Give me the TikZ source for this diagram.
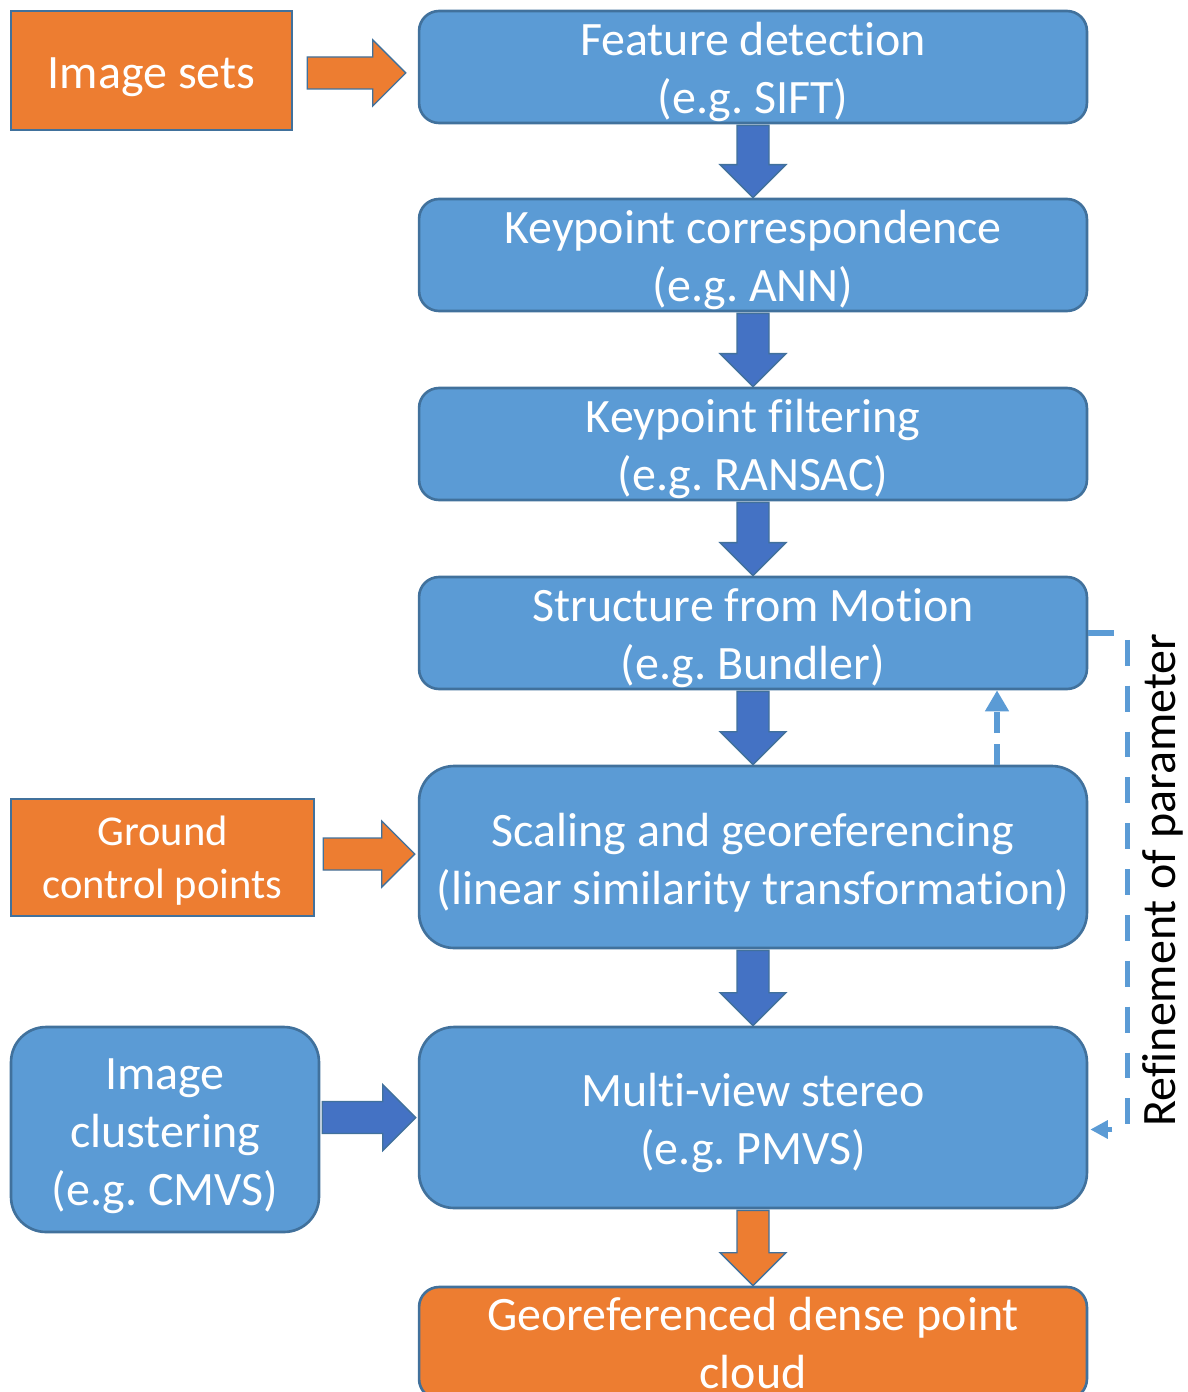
\documentclass[tikz,border=0pt]{standalone}
\usepackage{fontspec}
\setmainfont{Carlito}[Ligatures={NoCommon}]
\usetikzlibrary{calc,arrows.meta}
\definecolor{boxblue}{HTML}{5B9BD5}
\definecolor{edgeblue}{HTML}{41719C}
\definecolor{arrblue}{HTML}{4472C4}
\definecolor{orng}{HTML}{ED7D31}
\tikzset{
  base/.style={draw=edgeblue, line width=1.5pt, text=white, align=center,
    font=\fontsize{27.3}{33}\selectfont, inner sep=0pt},
  lift/.style={execute at begin node={\rule{0pt}{#1}}},
  lift/.default=58pt,
  bluebox/.style={base, fill=boxblue, rounded corners=#1},
  bluebox/.default=0.4cm,
  orangebox/.style={base, fill=orng, rounded corners=#1},
  orangebox/.default=0pt,
  stepwide/.style={minimum width=13.36cm, minimum height=2.24cm},
  blockarrow/.style={draw=edgeblue, line width=0.8pt, line join=miter},
  refl/.style={draw=boxblue, line width=3pt, dash pattern=on 14.7pt off 11.4pt},
}
\newcommand\blkdown[3]{%
  \filldraw[blockarrow, fill=#3] ($(#1.south)+(-16,1)$) -- ($(#2.north)+(-16,-33)$)
    -- ($(#2.north)+(-33,-33)$) -- (#2.north) -- ($(#2.north)+(33,-33)$)
    -- ($(#2.north)+(16,-33)$) -- ($(#1.south)+(16,1)$) -- cycle;}
\newcommand\blkright[6]{%
  \coordinate (S) at ($(#1.east |- #2.west)+(#3,#5)$);
  \coordinate (T) at ($(#2.west)+(-#4,#5)$);
  \filldraw[blockarrow, fill=#6] ($(S)+(0,-16)$) -- ($(T)+(-33,-16)$)
    -- ($(T)+(-33,-33)$) -- (T) -- ($(T)+(-33,33)$)
    -- ($(T)+(-33,16)$) -- ($(S)+(0,16)$) -- cycle;}
\begin{document}
\frenchspacing
\begin{tikzpicture}[x=0.02cm, y=-0.02cm]
\useasboundingbox (0,0) rectangle (1187,1392);

% main column
\node[bluebox, stepwide, lift] (fd) at (753,67) {Feature detection\\(e.g. SIFT)};
\node[bluebox, stepwide, lift] (kc) at (753,255) {Keypoint correspondence\\(e.g. ANN)};
\node[bluebox, stepwide, lift] (kf) at (753,444) {Keypoint filtering\\(e.g. RANSAC)};
\node[bluebox, stepwide, lift] (sfm) at (753,633) {Structure from Motion\\(e.g. Bundler)};
\node[bluebox=0.7cm, lift, minimum width=13.36cm, minimum height=3.64cm] (scal) at (753,857)
  {Scaling and georeferencing\\(linear similarity transformation)};
\node[bluebox=0.7cm, lift, minimum width=13.36cm, minimum height=3.62cm] (mvs) at (753,1117.5)
  {Multi-view stereo\\(e.g. PMVS)};
\node[orangebox=0.4cm, stepwide] (geo) at (753,1343) {Georeferenced dense point\\cloud};

% side inputs
\node[orangebox, lift=25pt, minimum width=5.62cm, minimum height=2.38cm] (img) at (151.5,70.5) {Image sets};
\node[orangebox, minimum width=6.06cm, minimum height=2.34cm,
  font=\fontsize{24.2}{30.2}\selectfont, lift=51pt] (gcp) at (162.5,857.5) {Ground\\control points};
\node[bluebox=0.7cm, lift=91pt, minimum width=6.16cm, minimum height=4.1cm] (clus) at (165,1129.5)
  {Image\\clustering\\(e.g. CMVS)};

% side label
\node[rotate=90, font=\fontsize{27.3}{33}\selectfont, inner sep=0pt] (refine) at (1163,880)
  {Refinement of parameter};

% block arrows
\blkdown{fd}{kc}{arrblue}
\blkdown{kc}{kf}{arrblue}
\blkdown{kf}{sfm}{arrblue}
\blkdown{sfm}{scal}{arrblue}
\blkdown{scal}{mvs}{arrblue}
\blkdown{mvs}{geo}{orng}
\blkright{img}{fd}{14}{12}{6}{orng}
\blkright{gcp}{scal}{8}{3}{-3}{orng}
\blkright{clus}{mvs}{2}{2}{0}{arrblue}

% refinement connectors
\draw[refl, -{Triangle[width=10pt,length=10pt]}] (sfm.east) -- ++(39,0)
  |- ($(mvs.east)+(2,12)$);
\draw[refl, dash pattern=on 12pt off 6pt, -{Triangle[width=13pt,length=12pt]}]
  ($(scal.north)+(244,0)$) -- ($(sfm.south)+(244,0)$);
\end{tikzpicture}
\end{document}
